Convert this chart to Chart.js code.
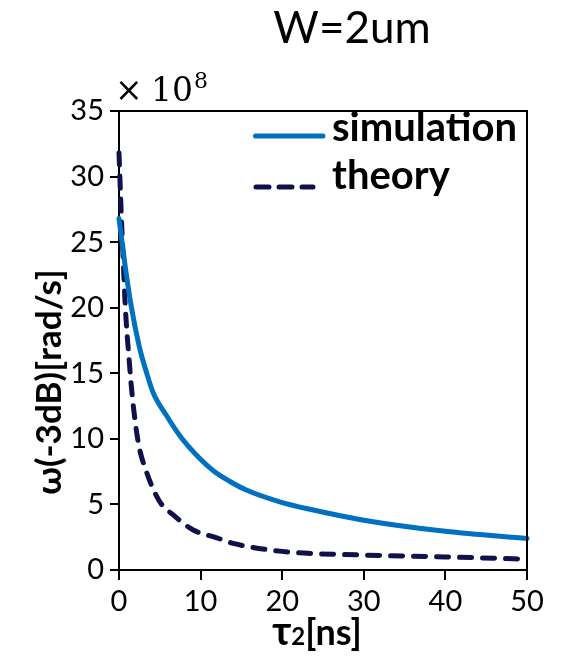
<!DOCTYPE html>
<html>
<head>
<meta charset="utf-8">
<script src="https://cdn.jsdelivr.net/npm/chart.js@4"></script>
<style>
html,body{margin:0;padding:0;background:#fff;}
#wrap{width:562px;height:657px;position:relative;}
</style>
</head>
<body>
<div id="wrap"><canvas id="c" width="562" height="657"></canvas></div>
<script>
const chartTitle = 'W=2um';
const seriesNames = ['simulation', 'theory'];
const xTitle = ['τ', '2', '[ns]'];
const yTitle = 'ω(-3dB)[rad/s]';
const yMultiplier = ['×', '10', '8'];

const simX = [0, 0.75, 1.5, 2.5, 3.4, 4.2, 5.8, 7.5, 9.9, 11.6, 13.6, 15.6, 19.7, 23.4, 30, 40, 50];
const simY = [26.8, 23.2, 20.1, 17.0, 15.0, 13.5, 11.8, 10.2, 8.5, 7.55, 6.75, 6.1, 5.2, 4.63, 3.8, 2.95, 2.4];

const theoryX = [0, 0.29, 0.53, 0.78, 1.22, 1.67, 2.37, 3.3, 4.9, 6.9, 9.1, 11.9, 14, 20, 30, 40, 50];
const theoryY = [31.8, 26.9, 23.5, 20.0, 16.2, 13.0, 9.7, 7.6, 5.3, 4.07, 3.05, 2.47, 2.03, 1.42, 1.14, 1.0, 0.82];

const xTicks = [0, 10, 20, 30, 40, 50];
const yTicks = [0, 5, 10, 15, 20, 25, 30, 35];

const SIM_COLOR = '#0070C0';
const TH_COLOR = '#10104a';

const toPts = (xs, ys) => xs.map((x, i) => ({x: x, y: ys[i]}));

const decor = {
  id: 'decor',
  afterDraw(chart) {
    const ctx = chart.ctx, a = chart.chartArea;
    ctx.save();
    // top/right frame
    ctx.strokeStyle = '#000';
    ctx.lineWidth = 2;
    ctx.beginPath();
    ctx.moveTo(a.left, a.top);
    ctx.lineTo(a.right, a.top);
    ctx.lineTo(a.right, a.bottom);
    ctx.stroke();

    ctx.fillStyle = '#000';
    ctx.textBaseline = 'alphabetic';
    // title
    ctx.font = '44px Lato';
    ctx.textAlign = 'center';
    ctx.fillText(chartTitle, 352, 43);

    // multiplier
    ctx.textAlign = 'left';
    ctx.font = '33px "DejaVu Serif"';
    ctx.fillText(yMultiplier[0], 115, 101);
    ctx.fillText(yMultiplier[1], 151, 101);
    const w = ctx.measureText(yMultiplier[1]).width;
    ctx.font = '22px "DejaVu Serif"';
    ctx.fillText(yMultiplier[2], 151 + w + 1, 88);

    // legend
    ctx.lineCap = 'round';
    ctx.lineWidth = 5;
    ctx.strokeStyle = SIM_COLOR;
    ctx.setLineDash([]);
    ctx.beginPath(); ctx.moveTo(255.5, 136); ctx.lineTo(323, 136); ctx.stroke();
    ctx.strokeStyle = TH_COLOR;
    ctx.setLineDash([13, 10]);
    ctx.beginPath(); ctx.moveTo(256, 187); ctx.lineTo(313, 187); ctx.stroke();
    ctx.setLineDash([]);
    ctx.font = 'bold 40px Lato';
    ctx.textAlign = 'left';
    ctx.fillText(seriesNames[0], 332, 141);
    ctx.fillText(seriesNames[1], 332, 189);

    // y title
    ctx.save();
    ctx.translate(61, 382);
    ctx.rotate(-Math.PI / 2);
    ctx.textAlign = 'center';
    ctx.font = 'bold 35px Lato';
    ctx.fillText(yTitle, 0, 0);
    ctx.restore();

    // x title
    ctx.font = 'bold 40px Lato';
    const w0 = ctx.measureText(xTitle[0]).width;
    ctx.font = 'bold 24px Lato';
    const w1 = ctx.measureText(xTitle[1]).width;
    ctx.font = 'bold 36px Lato';
    const w2 = ctx.measureText(xTitle[2]).width;
    let x0 = 317 - (w0 + w1 + w2) / 2;
    ctx.textAlign = 'left';
    ctx.font = 'bold 40px Lato';
    ctx.fillText(xTitle[0], x0, 645);
    ctx.font = 'bold 24px Lato';
    ctx.fillText(xTitle[1], x0 + w0, 645);
    ctx.font = 'bold 36px Lato';
    ctx.fillText(xTitle[2], x0 + w0 + w1, 645);
    ctx.restore();
  }
};

new Chart(document.getElementById('c'), {
  type: 'scatter',
  data: {
    datasets: [
      {
        label: seriesNames[0],
        data: toPts(simX, simY),
        showLine: true,
        borderColor: SIM_COLOR,
        borderWidth: 5,
        pointRadius: 0,
        cubicInterpolationMode: 'monotone',
        borderCapStyle: 'round'
      },
      {
        label: seriesNames[1],
        data: toPts(theoryX, theoryY),
        showLine: true,
        borderColor: TH_COLOR,
        borderWidth: 5,
        borderDash: [12, 11],
        borderCapStyle: 'round',
        pointRadius: 0,
        cubicInterpolationMode: 'monotone'
      }
    ]
  },
  options: {
    responsive: false,
    animation: false,
    clip: false,
    layout: {padding: {top: 111, right: 35, bottom: 0, left: 0}},
    plugins: {legend: {display: false}, tooltip: {enabled: false}, title: {display: false}},
    scales: {
      x: {
        type: 'linear',
        min: 0, max: 50,
        afterBuildTicks: s => { s.ticks = xTicks.map(v => ({value: v})); },
        afterFit: s => { s.height = 87; },
        ticks: {color: '#000', font: {family: 'Lato', size: 29}, padding: 4, maxRotation: 0, autoSkip: false},
        grid: {drawOnChartArea: false, drawTicks: true, tickLength: 10, color: '#000', lineWidth: 2},
        border: {color: '#000', width: 2}
      },
      y: {
        type: 'linear',
        min: 0, max: 35,
        afterBuildTicks: s => { s.ticks = yTicks.map(v => ({value: v})); },
        afterFit: s => { s.width = 119; },
        ticks: {color: '#000', font: {family: 'Lato', size: 29}, padding: 6, autoSkip: false},
        grid: {drawOnChartArea: false, drawTicks: true, tickLength: 9, color: '#000', lineWidth: 2},
        border: {color: '#000', width: 2}
      }
    }
  },
  plugins: [decor]
});
</script>
</body>
</html>
